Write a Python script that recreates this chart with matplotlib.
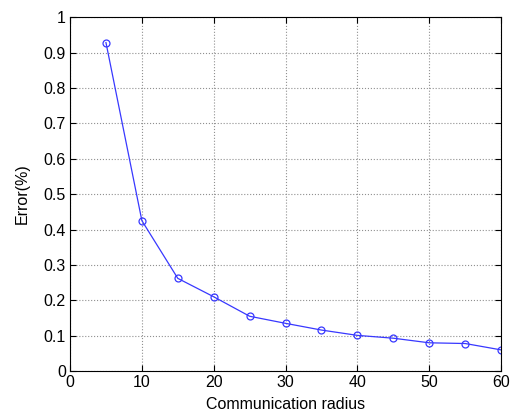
import matplotlib
matplotlib.use('Agg')
import matplotlib.pyplot as plt

radius = [5, 10, 15, 20, 25, 30, 35, 40, 45, 50, 55, 60]
error = [0.928, 0.425, 0.262, 0.210, 0.155, 0.135, 0.116, 0.101, 0.093, 0.080, 0.078, 0.060]

plt.rcParams['font.family'] = ['Liberation Sans', 'DejaVu Sans']
plt.rcParams['font.size'] = 11.5

fig = plt.figure(figsize=(5.15, 4.17), dpi=100)
ax = fig.add_axes([0.136, 0.110, 0.837, 0.849])

ax.plot(radius, error, color='#3838ff', lw=0.9, marker='o', markersize=5,
        markerfacecolor='none', markeredgecolor='#3838ff', markeredgewidth=0.9)

ax.set_xlim(0, 60)
ax.set_ylim(0, 1)
ax.set_xticks(range(0, 61, 10))
ax.set_yticks([i / 10 for i in range(11)])
ax.set_yticklabels(['0', '0.1', '0.2', '0.3', '0.4', '0.5', '0.6', '0.7', '0.8', '0.9', '1'])
ax.grid(True, linestyle=':', color='#909090', lw=0.8)
ax.tick_params(direction='in', top=True, right=True, length=4, width=0.8,
               labelsize=11.5, pad=3)
for s in ax.spines.values():
    s.set_linewidth(0.8)
ax.set_xlabel('Communication radius', fontsize=11.5, labelpad=5)
ax.set_ylabel('Error(%)', fontsize=11.5, labelpad=10)

fig.savefig('out.png', dpi=100)
